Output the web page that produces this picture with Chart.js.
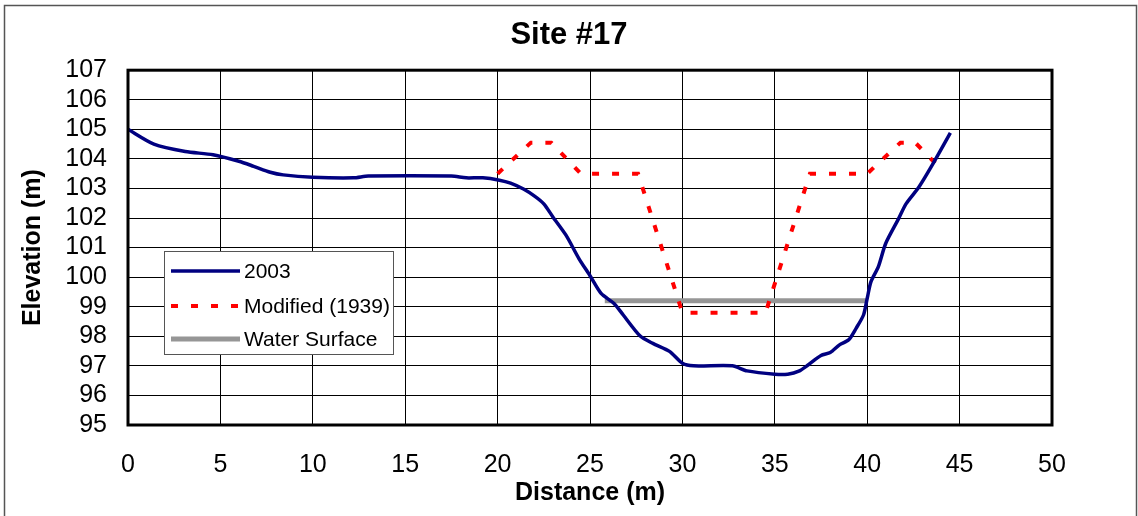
<!DOCTYPE html>
<html>
<head>
<meta charset="utf-8">
<title>Site #17</title>
<script src="https://cdn.jsdelivr.net/npm/chart.js@4/dist/chart.umd.min.js"></script>
<style>
  html, body { margin: 0; padding: 0; background: #fff; }
  canvas { display: block; }
</style>
</head>
<body>
<canvas id="siteChart" width="1138" height="516"></canvas>
<script>
// cross section values
const distance2003 = [0, 1.4, 3.1, 4.6, 6.0, 6.8, 7.7, 8.4, 10.0, 12.2, 13.0, 17.5, 18.3, 19.2,
  20.1, 20.7, 21.4, 22.0, 22.5, 23.0, 23.7, 24.4, 25.0, 25.6, 26.3, 26.8, 27.7, 28.4, 29.3,
  30.0, 30.6, 32.7, 33.5, 35.0, 35.7, 36.3, 36.8, 37.5, 38.0, 38.5, 39.0, 39.4, 39.8, 40.0,
  40.2, 40.6, 41.0, 41.7, 42.1, 42.8, 43.5, 44.5];
const elevation2003 = [105.0, 104.5, 104.25, 104.14, 103.92, 103.75, 103.55, 103.46, 103.38, 103.36, 103.42, 103.42, 103.36, 103.36,
  103.28, 103.18, 102.98, 102.74, 102.48, 102.03, 101.42, 100.63, 100.05, 99.45, 99.11, 98.72, 98.02, 97.76, 97.49,
  97.09, 97.0, 97.0, 96.83, 96.72, 96.72, 96.82, 97.03, 97.35, 97.45, 97.71, 97.88, 98.27, 98.72, 99.28,
  99.84, 100.35, 101.14, 101.98, 102.48, 103.05, 103.77, 104.88];

const distance1939 = [20.0, 21.8, 22.9, 24.5, 27.6, 30.0, 34.5, 36.9, 40.0, 41.8, 42.6, 44.0];
const elevation1939 = [103.5, 104.55, 104.55, 103.5, 103.5, 98.8, 98.8, 103.5, 103.5, 104.55, 104.55, 103.65];

const distanceWater = [25.8, 40.0];
const elevationWater = [99.2, 99.2];

const seriesNames = ["2003", "Modified (1939)", "Water Surface"];
const xTicks = { min: 0, max: 50, step: 5 };
const yTicks = { min: 95, max: 107, step: 1 };

const FONT = "'Liberation Sans', Arial, sans-serif";

function toPoints(xs, ys) {
  return xs.map((x, i) => ({ x: x, y: ys[i] }));
}

// Excel-like legend box sitting inside the plot, plus borders
const frameAndLegend = {
  id: "frameAndLegend",
  afterDraw(chart) {
    const ctx = chart.ctx;
    const area = chart.chartArea;
    ctx.save();
    // plot area border
    ctx.strokeStyle = "#000";
    ctx.lineWidth = 3;
    ctx.strokeRect(area.left, area.top, area.right - area.left, area.bottom - area.top);
    // outer chart border
    ctx.strokeStyle = "#555";
    ctx.lineWidth = 1.5;
    ctx.strokeRect(4.5, 5.5, 1132, 600);

    // legend
    const box = { x: 164.5, y: 251.5, w: 229, h: 103 };
    ctx.fillStyle = "#fff";
    ctx.fillRect(box.x, box.y, box.w, box.h);
    ctx.strokeStyle = "#555";
    ctx.lineWidth = 1;
    ctx.strokeRect(box.x, box.y, box.w, box.h);
    const rowY = [271, 306, 339];
    chart.data.datasets.forEach((ds, i) => {
      ctx.beginPath();
      ctx.strokeStyle = ds.borderColor;
      ctx.lineWidth = ds.borderWidth;
      ctx.setLineDash(ds.borderDash || []);
      ctx.moveTo(171, rowY[i]);
      ctx.lineTo(240, rowY[i]);
      ctx.stroke();
      ctx.setLineDash([]);
      ctx.fillStyle = "#000";
      ctx.font = "21px " + FONT;
      ctx.textBaseline = "middle";
      ctx.textAlign = "left";
      ctx.fillText(ds.label, 244, rowY[i] + 1);
    });
    ctx.restore();
  }
};

const ctx = document.getElementById("siteChart").getContext("2d");
new Chart(ctx, {
  type: "line",
  data: {
    datasets: [
      {
        label: seriesNames[0],
        data: toPoints(distance2003, elevation2003),
        borderColor: "#000080",
        borderWidth: 3.5,
        pointRadius: 0,
        tension: 0.25,
        fill: false,
        order: 1
      },
      {
        label: seriesNames[1],
        data: toPoints(distance1939, elevation1939),
        borderColor: "#ff0000",
        borderWidth: 4,
        borderDash: [7, 13],
        pointRadius: 0,
        tension: 0,
        fill: false,
        order: 2
      },
      {
        label: seriesNames[2],
        data: toPoints(distanceWater, elevationWater),
        borderColor: "#969696",
        borderWidth: 5,
        pointRadius: 0,
        tension: 0,
        fill: false,
        order: 3
      }
    ]
  },
  options: {
    responsive: false,
    animation: false,
    layout: { padding: 0 },
    plugins: {
      legend: { display: false },
      tooltip: { enabled: false },
      title: {
        display: true,
        text: "Site #17",
        color: "#000",
        font: { family: FONT, size: 31, weight: "bold" },
        padding: { top: 17, bottom: 16 }
      }
    },
    scales: {
      x: {
        type: "linear",
        min: xTicks.min,
        max: xTicks.max,
        afterFit(scale) { scale.height = 91; },
        ticks: {
          stepSize: xTicks.step,
          autoSkip: false,
          color: "#000",
          padding: 25,
          maxRotation: 0,
          font: { family: FONT, size: 25 }
        },
        grid: { color: "#000", lineWidth: 1, drawTicks: false },
        border: { display: false },
        title: {
          display: true,
          text: "Distance (m)",
          color: "#000",
          font: { family: FONT, size: 25, weight: "bold" },
          padding: { top: 0, bottom: 8 }
        }
      },
      y: {
        min: yTicks.min,
        max: yTicks.max,
        afterFit(scale) { scale.width = 128; },
        ticks: {
          stepSize: yTicks.step,
          autoSkip: false,
          color: "#000",
          padding: 21,
          font: { family: FONT, size: 25 }
        },
        grid: { color: "#000", lineWidth: 1, drawTicks: false },
        border: { display: false },
        title: {
          display: true,
          text: "Elevation (m)",
          color: "#000",
          font: { family: FONT, size: 25, weight: "bold" },
          padding: { top: 18, bottom: 0 }
        }
      },
      // empty right-hand axis, only reserves the blank margin so the title centres on the page
      yRight: {
        position: "right",
        min: yTicks.min,
        max: yTicks.max,
        afterFit(scale) { scale.width = 86; },
        ticks: { display: false },
        grid: { display: false, drawTicks: false },
        border: { display: false }
      }
    }
  },
  plugins: [frameAndLegend]
});
</script>
</body>
</html>
